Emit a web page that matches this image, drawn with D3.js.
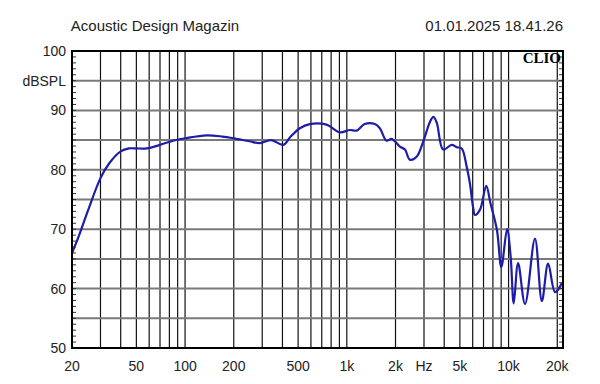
<!DOCTYPE html>
<html>
<head>
<meta charset="utf-8">
<script src="https://cdn.jsdelivr.net/npm/d3@7"></script>
<style>
  body { margin: 0; background: #fff; }
  text { font-family: "Liberation Sans", Arial, sans-serif; fill: #222; }
</style>
</head>
<body>
<script>
// frequency response (Hz / dB SPL)
const freqs = [20, 22, 25, 30, 34, 40, 45, 50, 58, 70, 84, 100, 136, 170, 200, 250, 290, 342, 404, 450,
  512, 590, 750, 904, 1045, 1150, 1290, 1490, 1600, 1760, 1890, 2130, 2290, 2450, 2700, 2970, 3270, 3430,
  3600, 3940, 4450, 4780, 5130, 5500, 5760, 6040, 6190, 6660, 7280, 7720, 8470, 9020, 9790, 10300, 10760,
  11450, 12640, 14560, 16060, 17560, 19400, 21400];
const spl = [66.0, 68.8, 73.0, 78.6, 81.1, 83.1, 83.6, 83.6, 83.6, 84.2, 84.9, 85.3, 85.8, 85.6, 85.3, 84.8, 84.5, 85.0, 84.2, 85.6,
  87.0, 87.7, 87.6, 86.3, 86.7, 86.6, 87.7, 87.7, 87.0, 84.9, 85.2, 83.9, 83.4, 81.7, 82.2, 84.8, 88.1, 88.9,
  87.9, 83.4, 84.2, 83.8, 83.6, 80.6, 77.8, 73.6, 72.4, 73.3, 77.3, 74.4, 69.9, 63.6, 70.0, 65.4, 57.5,
  64.3, 57.4, 68.4, 57.9, 64.2, 59.4, 61.0];

const xTickVals = [20, 50, 100, 200, 500, 1000, 2000, 3000, 5000, 10000, 20000];
const xTickLabels = ["20", "50", "100", "200", "500", "1k", "2k", "Hz", "5k", "10k", "20k"];
const yTickVals = [100, 90, 80, 70, 60, 50];
const title = "Acoustic Design Magazin";
const stamp = "01.01.2025 18.41.26";

const width = 600, height = 384;
const plotL = 72, plotR = 563, plotT = 51, plotB = 348;

const svg = d3.select("body").append("svg")
  .attr("width", width)
  .attr("height", height);

const x = d3.scaleLog().domain([20, 21700]).range([plotL, plotR]);
const y = d3.scaleLinear().domain([50, 100]).range([plotB, plotT]);

// vertical grid: 1-2-3..9 per decade, up to 20k
const vGrid = [30, 40, 50, 60, 70, 80, 90];
[1, 10, 100].forEach(m => [100, 200, 300, 400, 500, 600, 700, 800, 900].forEach(v => vGrid.push(v * m)));

svg.append("g")
  .selectAll("line")
  .data(vGrid.filter(v => v <= 20000))
  .enter().append("line")
  .attr("x1", d => x(d)).attr("x2", d => x(d))
  .attr("y1", plotT).attr("y2", plotB)
  .attr("stroke", "#111")
  .attr("stroke-width", 1.2);

// horizontal grid every 5 dB
svg.append("g")
  .selectAll("line")
  .data(d3.range(55, 100, 5))
  .enter().append("line")
  .attr("x1", plotL).attr("x2", plotR)
  .attr("y1", d => y(d)).attr("y2", d => y(d))
  .attr("stroke", "#7a7a7a")
  .attr("stroke-width", 2);

// minor ticks left and right
const minor = d3.range(51, 100, 1);
svg.append("g")
  .selectAll("line")
  .data(minor)
  .enter().append("line")
  .attr("x1", plotL).attr("x2", plotL + 4)
  .attr("y1", d => y(d)).attr("y2", d => y(d))
  .attr("stroke", "#333").attr("stroke-width", 1);
svg.append("g")
  .selectAll("line")
  .data(minor)
  .enter().append("line")
  .attr("x1", plotR - 4).attr("x2", plotR)
  .attr("y1", d => y(d)).attr("y2", d => y(d))
  .attr("stroke", "#333").attr("stroke-width", 1);

// curve
const line = d3.line()
  .x((d, i) => x(freqs[i]))
  .y(d => y(d))
  .curve(d3.curveCatmullRom.alpha(0.5));

svg.append("path")
  .datum(spl)
  .attr("d", line)
  .attr("fill", "none")
  .attr("stroke", "#1d1da6")
  .attr("stroke-width", 2.2)
  .attr("stroke-linejoin", "round");

// frame
svg.append("rect")
  .attr("x", plotL).attr("y", plotT)
  .attr("width", plotR - plotL).attr("height", plotB - plotT)
  .attr("fill", "none")
  .attr("stroke", "#000")
  .attr("stroke-width", 2);

// y labels
svg.append("g")
  .selectAll("text")
  .data(yTickVals)
  .enter().append("text")
  .attr("x", 66)
  .attr("y", d => y(d))
  .attr("dy", "0.36em")
  .attr("text-anchor", "end")
  .style("font-size", "14px")
  .text(d => d);

svg.append("text")
  .attr("x", 66).attr("y", y(95)).attr("dy", "0.36em")
  .attr("text-anchor", "end")
  .style("font-size", "14px")
  .text("dBSPL");

// x labels
svg.append("g")
  .selectAll("text")
  .data(xTickVals)
  .enter().append("text")
  .attr("x", d => x(d))
  .attr("y", 371)
  .attr("text-anchor", "middle")
  .style("font-size", "14px")
  .text((d, i) => xTickLabels[i]);

svg.append("text")
  .attr("x", 155).attr("y", 31)
  .attr("text-anchor", "middle")
  .style("font-size", "15px")
  .text(title);

svg.append("text")
  .attr("x", 563).attr("y", 31)
  .attr("text-anchor", "end")
  .style("font-size", "15px")
  .text(stamp);

svg.append("text")
  .attr("x", 561).attr("y", 63)
  .attr("text-anchor", "end")
  .style("font-family", "'Liberation Serif', 'Times New Roman', serif")
  .style("font-weight", "bold")
  .style("font-size", "15px")
  .style("fill", "#000")
  .text("CLIO");
</script>
</body>
</html>
